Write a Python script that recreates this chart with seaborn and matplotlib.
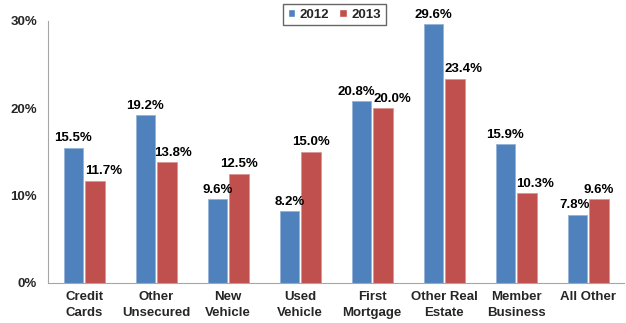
import matplotlib
matplotlib.use("Agg")
import matplotlib.pyplot as plt
import seaborn as sns
import pandas as pd
from matplotlib.patches import Patch

categories = ["Credit\nCards", "Other\nUnsecured", "New\nVehicle", "Used\nVehicle",
              "First\nMortgage", "Other Real\nEstate", "Member\nBusiness", "All Other"]
share_2012 = [15.5, 19.2, 9.6, 8.2, 20.8, 29.6, 15.9, 7.8]
share_2013 = [11.7, 13.8, 12.5, 15.0, 20.0, 23.4, 10.3, 9.6]
years = ["2012", "2013"]
colors = ["#4F81BD", "#C0504D"]
edge_colors = ["#95B3D7", "#D99694"]
yticks = [0, 10, 20, 30]

# horizontal nudges (points) so neighbouring value labels don't collide
label_nudge = {
    "2012": [0, 0, 0, 0, -3.5, 0, 0, -2],
    "2013": [6, 4.5, 0, 0, 7, 6, 6, 0],
}

df = pd.DataFrame({
    "category": categories * 2,
    "year": [years[0]] * len(categories) + [years[1]] * len(categories),
    "value": share_2012 + share_2013,
})

sns.set_theme(style="white")
plt.rcParams["font.family"] = ["Liberation Sans", "DejaVu Sans"]
plt.rcParams["font.weight"] = "bold"

fig = plt.figure(figsize=(6.26, 3.23), dpi=100)
ax = fig.add_axes([0.077, 0.124, 0.92, 0.811])

sns.barplot(data=df, x="category", y="value", hue="year", palette=colors,
            order=categories, hue_order=years, width=0.6, gap=0.1,
            saturation=1, ax=ax, legend=False, errorbar=None)

for year, ec, container in zip(years, edge_colors, ax.containers):
    for bar, val, dx in zip(container.patches, container.datavalues, label_nudge[year]):
        bar.set_edgecolor(ec)
        bar.set_linewidth(0.6)
        ax.annotate(f"{val:.1f}%", xy=(bar.get_x() + bar.get_width() / 2, val),
                    xytext=(dx, 2.5), textcoords="offset points",
                    ha="center", va="bottom", fontsize=9.5, fontweight="bold", color="black")

ax.set_ylim(0, 30)
ax.set_xlim(-0.5, len(categories) - 0.5)
ax.set_yticks(yticks)
ax.set_yticklabels([f"{t}%" for t in yticks], fontsize=9.5, fontweight="bold")
ax.set_xticks(range(len(categories)))
ax.set_xticklabels(categories, fontsize=9.5, fontweight="bold", linespacing=1.4)
ax.set_xticks([i - 0.5 for i in range(len(categories) + 1)], minor=True)
ax.tick_params(axis="x", which="major", length=0, pad=6)
ax.tick_params(axis="x", which="minor", length=3.5, color="#A6A6A6", width=0.8, direction="out")
ax.tick_params(axis="y", length=3.5, color="#A6A6A6", width=0.8, direction="out", pad=4.5)
ax.set_xlabel("")
ax.set_ylabel("")

for side in ["top", "right"]:
    ax.spines[side].set_visible(False)
for side in ["left", "bottom"]:
    ax.spines[side].set_color("#A6A6A6")
    ax.spines[side].set_linewidth(0.8)

handles = [Patch(facecolor=c, label=y) for c, y in zip(colors, years)]
fig.legend(handles=handles, loc="upper center", bbox_to_anchor=(0.534, 1.008), ncol=2,
           frameon=True, fancybox=False, edgecolor="#404040",
           handlelength=0.6, handleheight=0.6, handletextpad=0.3, columnspacing=0.8,
           borderpad=0.35, prop={"weight": "bold", "size": 9.5})

fig.savefig("out.png", dpi=100)
